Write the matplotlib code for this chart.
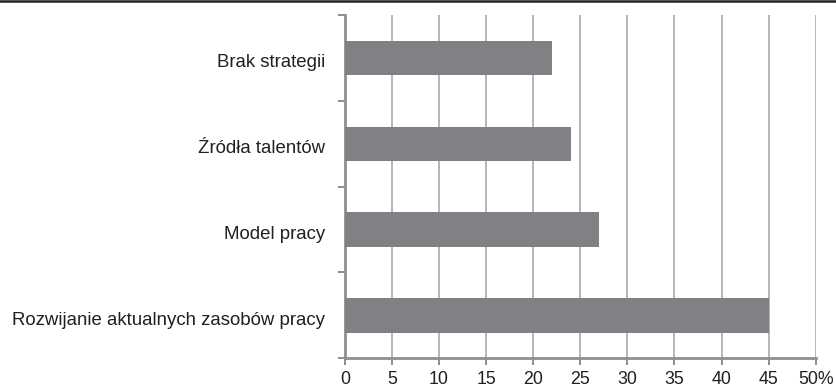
import matplotlib
matplotlib.use("Agg")
import matplotlib.pyplot as plt
from matplotlib.lines import Line2D
from matplotlib.transforms import ScaledTranslation

plt.rcParams['font.family'] = ['Liberation Sans', 'DejaVu Sans']

categories = [
    "Rozwijanie aktualnych zasobów pracy",
    "Model pracy",
    "Źródła talentów",
    "Brak strategii",
]
values = [45, 27, 24, 22]
x_ticks = [0, 5, 10, 15, 20, 25, 30, 35, 40, 45, 50]
x_tick_labels = ["0", "5", "10", "15", "20", "25", "30", "35", "40", "45", "50%"]

bar_color = "#808185"
grid_color = "#b5b5b7"
axis_color = "#8e8e90"
text_color = "#231f20"

fig = plt.figure(figsize=(8.36, 3.88), dpi=100)
ax = fig.add_axes([0.4125, 0.0765, 0.5632, 0.8848])

pos = list(range(len(categories)))
ax.barh(pos, values, height=0.4, color=bar_color, zorder=3)

ax.set_xlim(0, 50)
ax.set_ylim(-0.5, len(categories) - 0.5)

ax.set_xticks(x_ticks)
ax.set_xticklabels(x_tick_labels, fontsize=12.8, color=text_color)
ax.xaxis.grid(True, color=grid_color, linewidth=1.4, zorder=0)
ax.set_axisbelow(True)

ax.set_yticks(pos)
ax.set_yticklabels(categories, fontsize=13.4, color=text_color)
ax.set_yticks([p - 0.5 for p in pos] + [len(categories) - 0.5], minor=True)
ax.tick_params(axis='y', which='major', length=0, pad=14)
ax.tick_params(axis='y', which='minor', length=5, width=1.4, color=axis_color)
ax.tick_params(axis='x', which='major', length=5, width=1.4, color=axis_color, pad=4)

# category labels sit slightly below the bar centres
shift = ScaledTranslation(0, -3 / 100, fig.dpi_scale_trans)
for lbl in ax.get_yticklabels():
    lbl.set_transform(lbl.get_transform() + shift)

for side in ("top", "right"):
    ax.spines[side].set_visible(False)
for side in ("left", "bottom"):
    ax.spines[side].set_color(axis_color)
    ax.spines[side].set_linewidth(2)

# rule across the top of the figure
fig.add_artist(Line2D([0, 1], [1 - 1.2 / 388] * 2, color="#222222", linewidth=1.8,
                      transform=fig.transFigure))

fig.savefig("out.png", dpi=100)
